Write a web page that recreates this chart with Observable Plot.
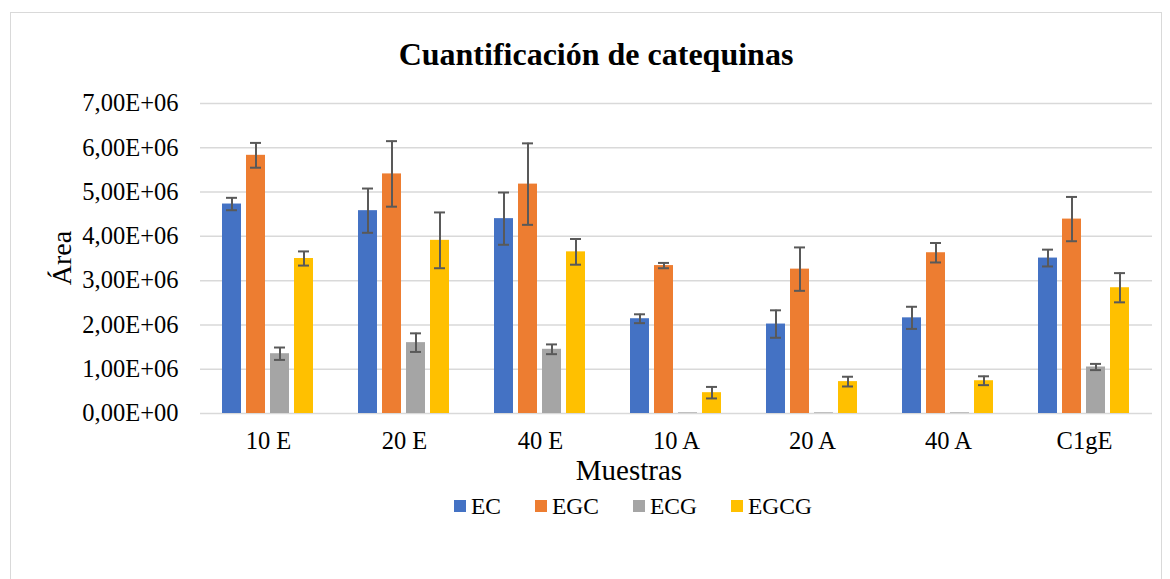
<!DOCTYPE html>
<html>
<head>
<meta charset="utf-8">
<script src="https://cdn.jsdelivr.net/npm/d3@7"></script>
<script src="https://cdn.jsdelivr.net/npm/@observablehq/plot@0.6"></script>
<style>
  body { margin: 0; background: #fff; font-family: "Liberation Serif", "Times New Roman", serif; color: #000; }
  #frame { position: absolute; left: 10px; top: 12px; width: 1150px; height: 620px; border: 1px solid #d9d9d9; }
  #title { position: absolute; left: 0; width: 1192px; top: 36px; text-align: center; font-weight: bold; font-size: 32px; line-height: 36px; font-family: "Liberation Serif", serif; }
  #chart { position: absolute; left: 0; top: 75px; }
  #chart svg text { font-family: "Liberation Serif", "Times New Roman", serif !important; font-size: 24.5px !important; font-variant: normal !important; fill: #000; }
  #ylab { position: absolute; left: 62px; top: 258px; font-size: 28px; transform: translate(-50%, -50%) rotate(-90deg); white-space: nowrap; font-family: "Liberation Serif", serif; }
  #xlab { position: absolute; left: 629px; top: 470px; font-size: 29px; line-height: 30px; transform: translate(-50%, -50%); white-space: nowrap; font-family: "Liberation Serif", serif; }
  #legend { position: absolute; left: 0; width: 1266px; top: 494px; display: flex; justify-content: center; font-size: 23.5px; line-height: 24px; font-family: "Liberation Serif", serif; }
  .item { display: flex; align-items: center; margin: 0 17px; font-family: "Liberation Serif", serif; }
  .sw { width: 12px; height: 12px; margin-right: 5px; }
</style>
</head>
<body>
<div id="frame"></div>
<div id="title">Cuantificación de catequinas</div>
<div id="chart"></div>
<div id="ylab">Área</div>
<div id="xlab">Muestras</div>
<div id="legend"></div>
<script>
const samples = ["10 E", "20 E", "40 E", "10 A", "20 A", "40 A", "C1gE"];
const series = ["EC", "EGC", "ECG", "EGCG"];
const colors = ["#4472C4", "#ED7D31", "#A5A5A5", "#FFC000"];
const yTicks = [0, 1e6, 2e6, 3e6, 4e6, 5e6, 6e6, 7e6];

const EC      = [4.73e6, 4.58e6, 4.40e6, 2.14e6, 2.02e6, 2.16e6, 3.51e6];
const EC_err  = [0.14e6, 0.50e6, 0.59e6, 0.10e6, 0.31e6, 0.25e6, 0.19e6];
const EGC     = [5.83e6, 5.41e6, 5.18e6, 3.34e6, 3.26e6, 3.63e6, 4.39e6];
const EGC_err = [0.28e6, 0.74e6, 0.92e6, 0.06e6, 0.49e6, 0.22e6, 0.50e6];
const ECG     = [1.35e6, 1.60e6, 1.45e6, 0.015e6, 0.015e6, 0.015e6, 1.05e6];
const ECG_err = [0.14e6, 0.21e6, 0.11e6, 0, 0, 0, 0.07e6];
const EGCG    = [3.50e6, 3.91e6, 3.65e6, 0.47e6, 0.72e6, 0.74e6, 2.84e6];
const EGCG_err= [0.16e6, 0.63e6, 0.29e6, 0.13e6, 0.11e6, 0.10e6, 0.33e6];

const valuesBySeries = {EC, EGC, ECG, EGCG};
const errBySeries = {EC: EC_err, EGC: EGC_err, ECG: ECG_err, EGCG: EGCG_err};

const rows = [];
samples.forEach((s, i) => {
  series.forEach(k => {
    rows.push({sample: s, series: k, value: valuesBySeries[k][i], err: errBySeries[k][i]});
  });
});
const errRows = rows.filter(d => d.err > 0);

function fmt(d) {
  const exp = d === 0 ? 0 : Math.floor(Math.log10(d));
  const mant = d === 0 ? 0 : d / Math.pow(10, exp);
  return mant.toFixed(2).replace(".", ",") + "E+" + String(exp).padStart(2, "0");
}

const chart = Plot.plot({
  width: 1170,
  height: 410,
  marginLeft: 199,
  marginRight: 18,
  marginTop: 28,
  marginBottom: 72,
  style: {fontFamily: "'Liberation Serif', serif", fontSize: "24.5px", color: "#000", background: "transparent"},
  fx: {domain: samples, padding: 0, label: null, axis: "bottom", tickSize: 0, tickPadding: 18},
  x: {domain: series, paddingInner: 0.2, paddingOuter: 0.876, axis: null},
  y: {domain: [0, 7e6], ticks: yTicks, tickFormat: fmt, tickSize: 0, tickPadding: 22, label: null},
  color: {domain: series, range: colors},
  marks: [
    Plot.ruleY(yTicks, {stroke: "#d9d9d9", strokeWidth: 1.5}),
    Plot.barY(rows, {fx: "sample", x: "series", y: "value", fill: "series"}),
    Plot.ruleX(errRows, {fx: "sample", x: "series", y1: d => d.value - d.err, y2: d => d.value + d.err, stroke: "#595959", strokeWidth: 2}),
    Plot.tickY(errRows, {fx: "sample", x: "series", y: d => d.value + d.err, stroke: "#595959", strokeWidth: 2, insetLeft: 4, insetRight: 4}),
    Plot.tickY(errRows, {fx: "sample", x: "series", y: d => d.value - d.err, stroke: "#595959", strokeWidth: 2, insetLeft: 4, insetRight: 4})
  ]
});
document.getElementById("chart").appendChild(chart);

const legend = document.getElementById("legend");
series.forEach((s, i) => {
  const it = document.createElement("div");
  it.className = "item";
  const sw = document.createElement("span");
  sw.className = "sw";
  sw.style.background = colors[i];
  const t = document.createElement("span");
  t.textContent = s;
  it.appendChild(sw);
  it.appendChild(t);
  legend.appendChild(it);
});
</script>
</body>
</html>
